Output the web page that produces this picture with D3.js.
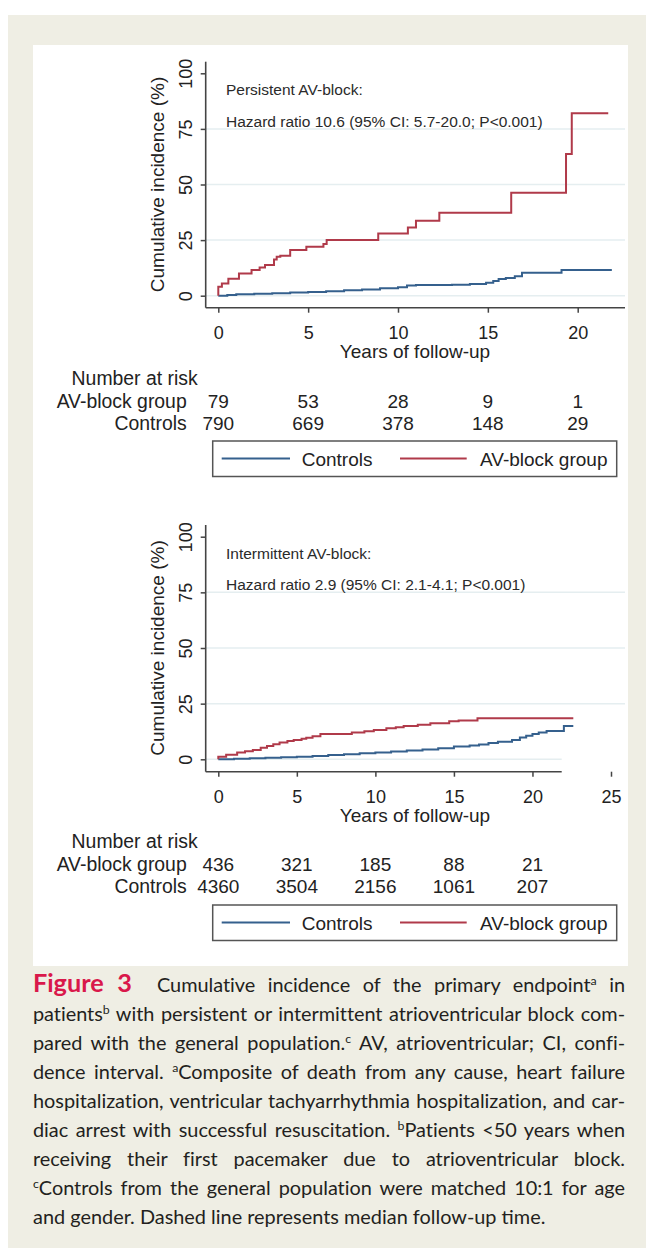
<!DOCTYPE html>
<html>
<head>
<meta charset="utf-8">
<script src="https://cdn.jsdelivr.net/npm/d3@7"></script>
<style>
  body { margin: 0; background: #fff; }
  #wrap { position: relative; width: 646px; height: 1248px; overflow: hidden; }
  svg { position: absolute; left: 0; top: 0; }
  .caption { position: absolute; left: 33px; top: 968px; width: 592px;
    font-family: Lato, "Open Sans", sans-serif; font-size: 19.9px; line-height: 29px; color: #231f20; }
  .caption div { text-align: justify; text-align-last: justify; white-space: nowrap; }
  .caption div.last { text-align-last: left; }
  .caption b { color: #d9184b; font-size: 1.27em; }
  .caption sup { font-size: 0.62em; vertical-align: 0; position: relative; top: -0.6em; line-height: 0; }
</style>
</head>
<body>
<div id="wrap"></div>
<script>
// ---- data ----
const riskTimes = [0, 5, 10, 15, 20];

// persistent AV-block panel: [years, cumulative incidence %]
const persistentAV = [[0, 0], [0, 4.0], [0.2, 5.5], [0.56, 7.6], [1.15, 10.0], [1.85, 11.5], [2.3, 12.7],
  [2.6, 13.8], [3.1, 16.3], [3.25, 17.5], [3.45, 18.0], [4.0, 20.5], [4.9, 22.0], [5.85, 23.2],
  [6.03, 25.0], [8.9, 28.0], [10.55, 30.7], [11.0, 33.7], [12.3, 37.3], [16.3, 46.3],
  [19.35, 63.7], [19.67, 82.0], [21.7, 82.0]];
const persistentCtrl = [[0, 0], [0.5, 0.3], [1.0, 0.7], [2.0, 0.9], [3.0, 1.1], [4.0, 1.4], [5.0, 1.7],
  [6.0, 2.0], [7.0, 2.5], [8.0, 2.8], [9.0, 3.3], [10.0, 3.8], [10.5, 4.6], [11.0, 4.8], [13.0, 4.9],
  [14.0, 5.3], [14.9, 5.8], [15.3, 6.6], [15.6, 7.5], [16.0, 8.0], [16.5, 8.8], [16.9, 10.3],
  [19.1, 11.5], [21.9, 11.5]];
const persistentRiskAV = [79, 53, 28, 9, 1];
const persistentRiskCtrl = [790, 669, 378, 148, 29];

// intermittent AV-block panel
const intermittentAV = [[0, 0], [0, 1.2], [0.5, 2.0], [1.2, 3.1], [1.7, 3.6], [2.2, 4.2], [2.7, 5.2],
  [3.1, 6.0], [3.5, 6.8], [3.9, 7.5], [4.4, 8.2], [4.8, 8.7], [5.3, 9.2], [5.6, 9.7], [6.0, 10.4],
  [6.5, 11.4], [8.5, 12.0], [9.3, 12.6], [9.9, 13.2], [10.7, 13.9], [11.3, 14.4], [11.8, 15.0],
  [12.7, 15.5], [13.5, 16.2], [14.7, 17.1], [15.3, 17.4], [16.5, 18.4], [22.6, 18.4]];
const intermittentCtrl = [[0, 0], [1, 0.3], [2, 0.5], [3, 0.7], [4, 0.9], [5, 1.2], [6, 1.5], [7, 1.9],
  [8, 2.3], [9, 2.7], [10, 3.1], [11, 3.5], [12, 3.9], [13, 4.4], [14, 5.0], [15, 5.7], [16, 6.2],
  [16.6, 6.7], [17.2, 7.3], [17.8, 7.9], [18.7, 8.7], [19.2, 9.8], [19.6, 10.6], [20.0, 11.4],
  [20.4, 12.0], [20.9, 12.7], [22.0, 15.0], [22.6, 15.0]];
const intermittentRiskAV = [436, 321, 185, 88, 21];
const intermittentRiskCtrl = [4360, 3504, 2156, 1061, 207];

const yTicks = [0, 25, 50, 75, 100];
const gridVals = [0, 25, 50, 75];
const legendLabels = ["Controls", "AV-block group"];

const captionLines = [
  '<b>Figure 3</b>&nbsp; Cumulative incidence of the primary endpoint<sup>a</sup> in',
  'patients<sup>b</sup> with persistent or intermittent atrioventricular block com-',
  'pared with the general population.<sup>c</sup> AV, atrioventricular; CI, confi-',
  'dence interval. <sup>a</sup>Composite of death from any cause, heart failure',
  'hospitalization, ventricular tachyarrhythmia hospitalization, and car-',
  'diac arrest with successful resuscitation. <sup>b</sup>Patients &lt;50 years when',
  'receiving their first pacemaker due to atrioventricular block.',
  '<sup>c</sup>Controls from the general population were matched 10:1 for age',
  'and gender. Dashed line represents median follow-up time.'
];

// ---- drawing ----
const blue = "#35608d", red = "#b03a4a";
const font = "'Liberation Sans', Arial, sans-serif";
const wrap = d3.select("#wrap");
const svg = wrap.append("svg").attr("width", 646).attr("height", 1248);

svg.append("rect").attr("x", 8).attr("y", 15).attr("width", 638).attr("height", 1233).attr("fill", "#efeee4");
svg.append("rect").attr("x", 33).attr("y", 45).attr("width", 595).attr("height", 921).attr("fill", "#fff");

function panel(cfg) {
  const g = svg.append("g");
  const x = d3.scaleLinear().domain([0, cfg.xMax]).range([218.3, cfg.xMaxPx]);
  const y = d3.scaleLinear().domain([0, 100]).range([cfg.y0, cfg.y100]);

  // grid
  g.selectAll(".grid").data(gridVals).enter().append("line")
    .attr("x1", 206).attr("x2", d => d === 0 ? cfg.zeroGridRight : 625)
    .attr("y1", d => y(d)).attr("y2", d => y(d))
    .attr("stroke", "#e5eef0").attr("stroke-width", 1.5);

  // y axis
  const ya = g.append("g").attr("transform", `translate(${cfg.left},0)`)
    .call(d3.axisLeft(y).tickValues(yTicks).tickSize(5).tickFormat(d3.format("d")));
  ya.select(".domain").remove();
  ya.selectAll(".tick line").attr("stroke", "#444").attr("stroke-width", 1.5);
  ya.selectAll(".tick text").attr("x", null).attr("dy", null)
    .attr("transform", "translate(-14,0) rotate(-90)").attr("text-anchor", "middle")
    .attr("font-family", font).attr("font-size", 18).attr("fill", "#222");
  g.append("line").attr("x1", cfg.left).attr("x2", cfg.left).attr("y1", cfg.axisTop).attr("y2", cfg.axisY)
    .attr("stroke", "#444").attr("stroke-width", 1.6);

  // x axis
  const xa = g.append("g").attr("transform", `translate(0,${cfg.axisY})`)
    .call(d3.axisBottom(x).tickValues(cfg.xTicks).tickSize(5));
  xa.select(".domain").remove();
  xa.selectAll(".tick line").attr("stroke", "#444").attr("stroke-width", 1.5);
  xa.selectAll(".tick text").attr("y", 31).attr("dy", null)
    .attr("font-family", font).attr("font-size", 18).attr("fill", "#222");
  g.append("line").attr("x1", cfg.left).attr("x2", cfg.axisRight).attr("y1", cfg.axisY).attr("y2", cfg.axisY)
    .attr("stroke", "#444").attr("stroke-width", 1.6);

  g.append("text").attr("x", 415).attr("y", cfg.axisY + 50.5).attr("text-anchor", "middle")
    .attr("font-family", font).attr("font-size", 19).attr("fill", "#222").text("Years of follow-up");
  g.append("text").attr("transform", `translate(164,${(cfg.y0 + cfg.y100) / 2}) rotate(-90)`)
    .attr("text-anchor", "middle").attr("font-family", font).attr("font-size", 19).attr("fill", "#222")
    .text("Cumulative incidence (%)");

  // annotations
  g.append("text").attr("x", 226).attr("y", cfg.y100 + 22).attr("font-family", font).attr("font-size", 15.5)
    .attr("fill", "#2a2a2a").text(cfg.title);
  g.append("text").attr("x", 226).attr("y", cfg.y100 + 53.5).attr("font-family", font).attr("font-size", 15.5)
    .attr("fill", "#2a2a2a").text(cfg.hr);

  // curves
  const line = d3.line().x(d => x(d[0])).y(d => y(d[1])).curve(d3.curveStepAfter);
  g.append("path").datum(cfg.ctrl).attr("d", line).attr("fill", "none").attr("stroke", blue).attr("stroke-width", 2);
  g.append("path").datum(cfg.av).attr("d", line).attr("fill", "none").attr("stroke", red).attr("stroke-width", 2);

  // number at risk
  const t = cfg.riskTop;
  g.append("text").attr("x", 197.7).attr("y", t).attr("text-anchor", "end")
    .attr("font-family", font).attr("font-size", 19.4).attr("fill", "#222").text("Number at risk");
  [["AV-block group", cfg.riskAV, t + 22.5], ["Controls", cfg.riskCtrl, t + 44.5]].forEach(([lab, vals, yy]) => {
    g.append("text").attr("x", 186.7).attr("y", yy).attr("text-anchor", "end")
      .attr("font-family", font).attr("font-size", 19.4).attr("fill", "#222").text(lab);
    g.selectAll(null).data(vals).enter().append("text")
      .attr("x", (d, i) => x(riskTimes[i])).attr("y", yy).attr("text-anchor", "middle")
      .attr("font-family", font).attr("font-size", 19).attr("fill", "#222").text(d => d);
  });

  // legend
  const ly = cfg.legendTop;
  g.append("rect").attr("x", 212.7).attr("y", ly).attr("width", 404).attr("height", 35.5)
    .attr("fill", "#fff").attr("stroke", "#555").attr("stroke-width", 1.5);
  const items = [[blue, 221.7, 290, 301.7], [red, 400, 466.7, 480]];
  items.forEach((it, i) => {
    g.append("line").attr("x1", it[1]).attr("x2", it[2]).attr("y1", ly + 17.5).attr("y2", ly + 17.5)
      .attr("stroke", it[0]).attr("stroke-width", 2);
    g.append("text").attr("x", it[3]).attr("y", ly + 24.5).attr("font-family", font).attr("font-size", 19)
      .attr("fill", "#222").text(legendLabels[i]);
  });
}

panel({
  xMax: 20, xMaxPx: 577.7, xTicks: [0, 5, 10, 15, 20],
  y0: 295.7, y100: 73.3, left: 205.7, axisTop: 61.7, axisY: 307.7, axisRight: 625, zeroGridRight: 625,
  title: "Persistent AV-block:", hr: "Hazard ratio 10.6 (95% CI: 5.7-20.0; P<0.001)",
  av: persistentAV, ctrl: persistentCtrl, riskAV: persistentRiskAV, riskCtrl: persistentRiskCtrl,
  riskTop: 385, legendTop: 441
});

panel({
  xMax: 25, xMaxPx: 611, xTicks: [0, 5, 10, 15, 20, 25],
  y0: 759.3, y100: 536.7, left: 205.7, axisTop: 525, axisY: 771.7, axisRight: 561.7, zeroGridRight: 561.7,
  title: "Intermittent AV-block:", hr: "Hazard ratio 2.9 (95% CI: 2.1-4.1; P<0.001)",
  av: intermittentAV, ctrl: intermittentCtrl, riskAV: intermittentRiskAV, riskCtrl: intermittentRiskCtrl,
  riskTop: 848.3, legendTop: 905
});

// caption: one justified line per row, squeezed a little if a line is too long
const rows = wrap.append("div").attr("class", "caption")
  .selectAll("div").data(captionLines).enter().append("div")
  .classed("last", (d, i) => i === captionLines.length - 1)
  .html(d => `<span>${d}</span>`);
rows.each(function () {
  const span = this.firstChild;
  const w = span.getBoundingClientRect().width;
  if (w > 590) {
    const n = span.textContent.length;
    this.style.letterSpacing = ((590 - w) / n) + "px";
  }
});
</script>
</body>
</html>
